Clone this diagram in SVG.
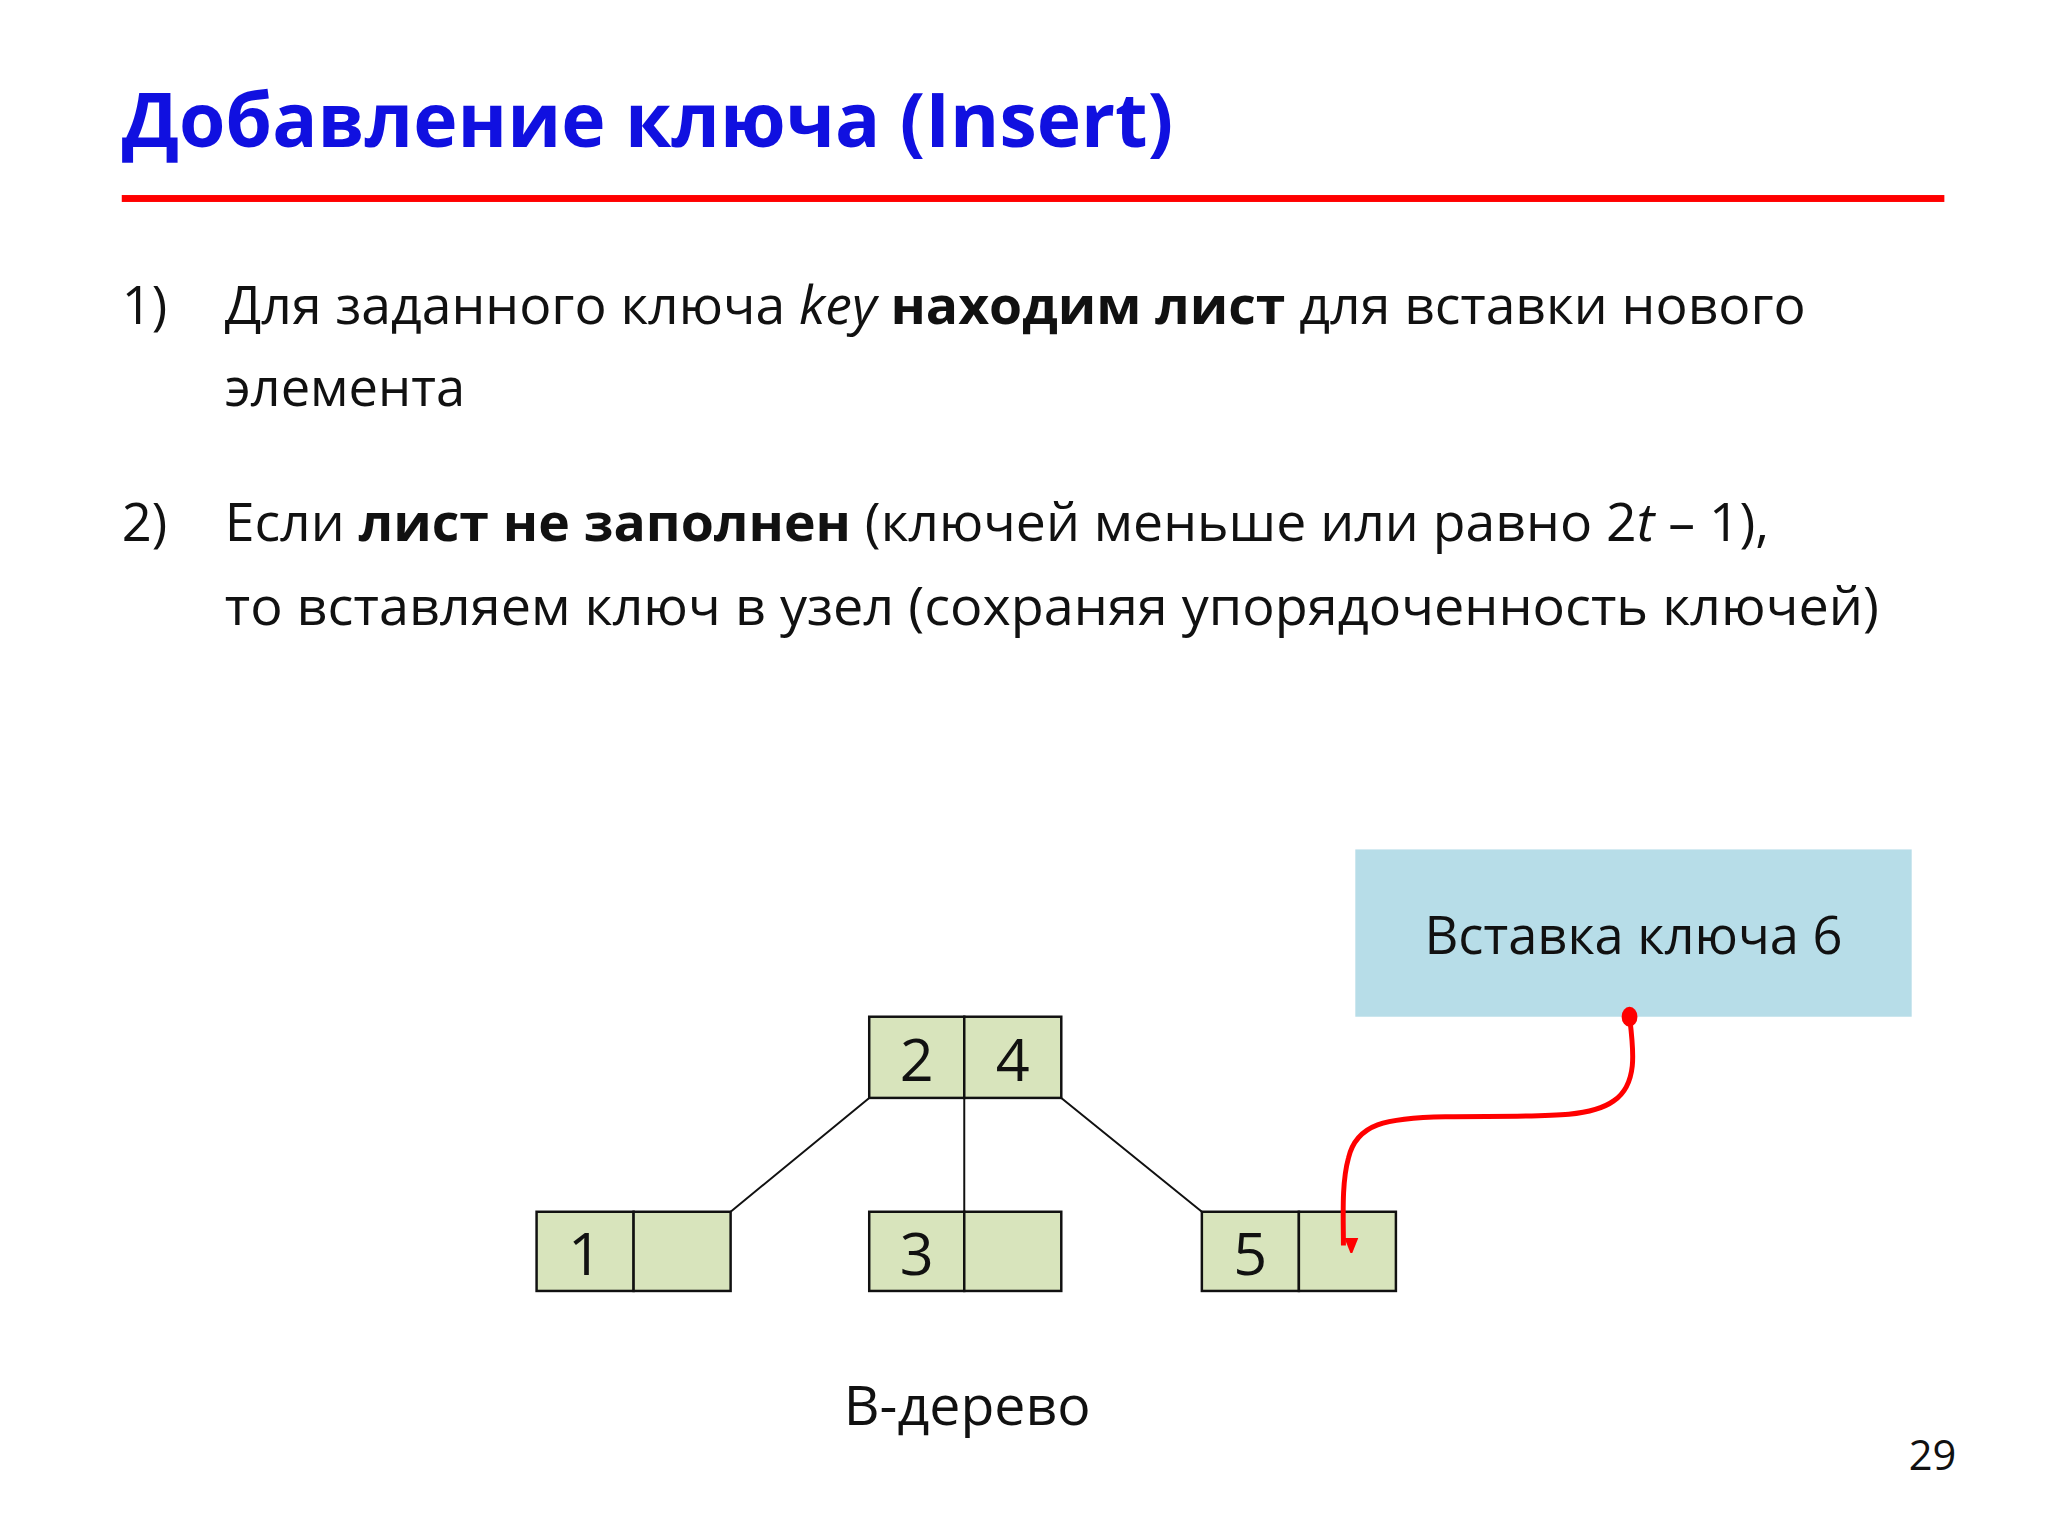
<svg xmlns="http://www.w3.org/2000/svg" width="2048" height="1536" viewBox="0 0 2048 1536">
<style>
text{font-family:"Open Sans","Liberation Sans",sans-serif;fill:#111}
.b{font-size:53px}
.d{font-size:60px;text-anchor:middle}
.cell{fill:#d8e4bc;stroke:#111;stroke-width:2.5}
.edge{stroke:#111;stroke-width:2;fill:none}
</style>
<defs><marker id="ah" markerWidth="16" markerHeight="20" refX="8" refY="18" orient="auto-start-reverse" markerUnits="userSpaceOnUse" viewBox="0 0 16 20"><path d="M0,0 L16,0 L8,20 z" fill="#f00" transform="rotate(-90 8 10)"/></marker></defs>
<rect width="2048" height="1536" fill="#fff"/>
<g transform="scale(0.99)">
<text x="123" y="148" font-size="76" font-weight="bold" style="fill:#1010e0" textLength="1062" lengthAdjust="spacingAndGlyphs">Добавление ключа (Insert)</text>
<rect x="123" y="197" width="1841" height="7" fill="#f00"/>
<text class="b" x="123" y="327">1)</text>
<text class="b" x="227" y="327" textLength="1597" lengthAdjust="spacingAndGlyphs">Для заданного ключа <tspan font-style="italic">key</tspan> <tspan font-weight="bold">находим лист</tspan> для вставки нового</text>
<text class="b" x="227" y="410">элемента</text>
<text class="b" x="123" y="546">2)</text>
<text class="b" x="227" y="546" textLength="1560" lengthAdjust="spacingAndGlyphs">Если <tspan font-weight="bold">лист не заполнен</tspan> (ключей меньше или равно 2<tspan font-style="italic">t</tspan> – 1),</text>
<text class="b" x="227" y="631" textLength="1671" lengthAdjust="spacingAndGlyphs">то вставляем ключ в узел (сохраняя упорядоченность ключей)</text>
<g id="label"><rect x="1369" y="858" width="562" height="169" fill="#b7dde8"/>
<text class="b" x="1650" y="964" text-anchor="middle">Вставка ключа 6</text></g>
<g id="root"><rect class="cell" x="878" y="1027" width="96" height="82"/><rect class="cell" x="974" y="1027" width="98" height="82"/>
<text class="d" x="926" y="1092">2</text><text class="d" x="1023" y="1092">4</text></g>
<g id="leaf1"><rect class="cell" x="542" y="1224" width="98" height="80"/><rect class="cell" x="640" y="1224" width="98" height="80"/>
<text class="d" x="591" y="1288">1</text></g>
<g id="leaf2"><rect class="cell" x="878" y="1224" width="96" height="80"/><rect class="cell" x="974" y="1224" width="98" height="80"/>
<text class="d" x="926" y="1288">3</text></g>
<g id="leaf3"><rect class="cell" x="1214" y="1224" width="98" height="80"/><rect class="cell" x="1312" y="1224" width="98" height="80"/>
<text class="d" x="1263" y="1288">5</text></g>
<g id="edges">
<path class="edge" d="M878,1109 L738,1224 M974,1109 L974,1224 M1072,1109 L1214,1224"/>
<path d="M1646,1027 C1650,1060 1655,1095 1630,1112 C1605,1130 1560,1127 1460,1128 C1400,1129 1370,1135 1362,1170 C1355,1195 1357,1230 1357,1258" fill="none" stroke="#f00" stroke-width="5" marker-end="url(#ah)"/>
<ellipse cx="1646" cy="1027" rx="8" ry="10" fill="#f00"/>
</g>
<text x="977" y="1439" font-size="56" text-anchor="middle">B-дерево</text>
<text x="1976" y="1485" font-size="42" text-anchor="end">29</text>
</g>
</svg>
